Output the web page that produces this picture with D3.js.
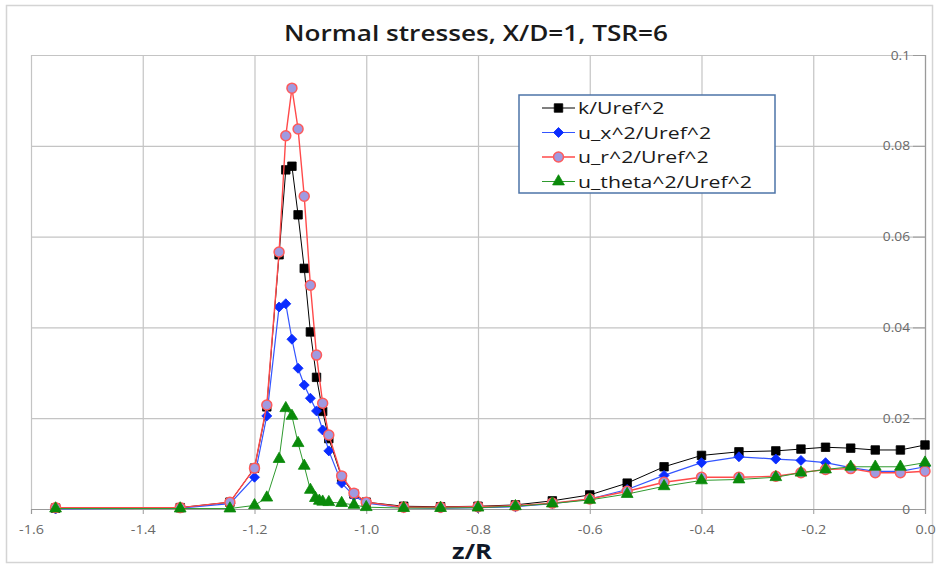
<!DOCTYPE html>
<html>
<head>
<meta charset="utf-8">
<script src="https://cdn.jsdelivr.net/npm/d3@7"></script>
<style>
  body { margin: 0; background: #fff; }
  svg { display: block; }
</style>
</head>
<body>
<div id="chart"></div>
<script>
// --- data ---
const zR = [-1.556, -1.333, -1.244, -1.2, -1.178, -1.156, -1.144, -1.133, -1.122, -1.111,
            -1.1, -1.089, -1.078, -1.067, -1.044, -1.022, -1.0, -0.933, -0.867, -0.8,
            -0.733, -0.667, -0.6, -0.533, -0.467, -0.4, -0.333, -0.267, -0.222, -0.178,
            -0.133, -0.089, -0.044, 0.0];
const kU = [0.0002, 0.0003, 0.0015, 0.009, 0.0225, 0.056, 0.0747, 0.0755, 0.0648, 0.053,
            0.039, 0.029, 0.0215, 0.0155, 0.007, 0.0033, 0.0015, 0.0006, 0.0005, 0.0006,
            0.0009, 0.0018, 0.0031, 0.0057, 0.0093, 0.0118, 0.0126, 0.0128, 0.0132, 0.0136,
            0.0134, 0.013, 0.013, 0.0141];
const uxU = [0.0, 0.0002, 0.0012, 0.007, 0.0205, 0.0445, 0.0452, 0.0374, 0.031, 0.0273,
             0.0244, 0.0216, 0.0174, 0.0128, 0.0057, 0.0029, 0.0013, 0.0003, 0.0002, 0.0003,
             0.0005, 0.0012, 0.0022, 0.0043, 0.0074, 0.0102, 0.0115, 0.011, 0.0107, 0.0102,
             0.0091, 0.0083, 0.0083, 0.0093];
const urU = [0.0003, 0.0003, 0.0015, 0.009, 0.0229, 0.0566, 0.0822, 0.0927, 0.0837, 0.0689,
             0.0493, 0.0339, 0.0233, 0.0163, 0.0073, 0.0035, 0.0015, 0.0004, 0.0004, 0.0005,
             0.0007, 0.0013, 0.0022, 0.0039, 0.0059, 0.007, 0.007, 0.0072, 0.008, 0.0087,
             0.0089, 0.008, 0.008, 0.0083];
const zRt = [-1.556, -1.333, -1.244, -1.2, -1.178, -1.156, -1.144, -1.133, -1.122, -1.111,
             -1.1, -1.091, -1.084, -1.078, -1.067, -1.044, -1.022, -1.0, -0.933, -0.867,
             -0.8, -0.733, -0.667, -0.6, -0.533, -0.467, -0.4, -0.333, -0.267, -0.222,
             -0.178, -0.133, -0.089, -0.044, 0.0];
const utU = [0.0001, 0.0001, 0.0001, 0.0008, 0.0025, 0.011, 0.0222, 0.0205, 0.0145, 0.0095,
             0.0042, 0.0024, 0.0018, 0.0016, 0.0015, 0.0013, 0.0009, 0.0004, 0.0002, 0.0002,
             0.0003, 0.0006, 0.0012, 0.002, 0.0033, 0.005, 0.0063, 0.0065, 0.007, 0.008,
             0.0087, 0.0093, 0.0093, 0.0093, 0.0102];

const seriesNames = ["k/Uref^2", "u_x^2/Uref^2", "u_r^2/Uref^2", "u_theta^2/Uref^2"];
const xTicks = [-1.6, -1.4, -1.2, -1.0, -0.8, -0.6, -0.4, -0.2, 0.0];
const yTicks = [0, 0.02, 0.04, 0.06, 0.08, 0.1];
const yTickLabels = ["0", "0.02", "0.04", "0.06", "0.08", "0.1"];

// --- layout ---
const W = 938, H = 565;
const plot = { left: 31, right: 925, top: 55, bottom: 509 };
const FONT = "'Open Sans', sans-serif";

// the reference text is rendered a bit wide, so glyphs get stretched horizontally
function stretch(sel, f) {
    sel.each(function () {
        const w = this.getComputedTextLength();
        d3.select(this).attr("textLength", w * f).attr("lengthAdjust", "spacingAndGlyphs");
    });
}

const svg = d3.select("#chart").append("svg")
    .attr("width", W)
    .attr("height", H);

// chart frame
svg.append("rect")
    .attr("x", 6.5).attr("y", 5.5)
    .attr("width", 926).attr("height", 557)
    .attr("fill", "#fff")
    .attr("stroke", "#d4d4d4")
    .attr("stroke-width", 1.5);

const x = d3.scaleLinear().domain([-1.6, 0]).range([plot.left, plot.right]);
const y = d3.scaleLinear().domain([0, 0.1]).range([plot.bottom, plot.top]);

// gridlines
svg.append("g")
    .attr("transform", `translate(0,${plot.bottom})`)
    .call(d3.axisBottom(x).tickValues(xTicks).tickSize(-(plot.bottom - plot.top)).tickFormat(""))
    .call(g => g.select(".domain").remove())
    .call(g => g.selectAll("line").attr("stroke", "#c4c4c4").attr("stroke-width", 1.2));

svg.append("g")
    .attr("transform", `translate(${plot.right},0)`)
    .call(d3.axisLeft(y).tickValues(yTicks).tickSize(plot.right - plot.left).tickFormat(""))
    .call(g => g.select(".domain").remove())
    .call(g => g.selectAll("line").attr("stroke", "#c4c4c4").attr("stroke-width", 1.2));

// x axis
svg.append("g")
    .attr("transform", `translate(0,${plot.bottom})`)
    .call(d3.axisBottom(x).tickValues(xTicks).tickSize(5).tickPadding(11)
        .tickFormat(d => d.toFixed(1)))
    .call(g => g.select(".domain").attr("stroke", "#9a9a9a").attr("stroke-width", 1.2))
    .call(g => g.selectAll("line").attr("stroke", "#9a9a9a"))
    .call(g => g.selectAll("text")
        .attr("fill", "#6a6a6a")
        .style("font-family", FONT)
        .style("font-size", "12.5px")
        .call(stretch, 1.15));

// y axis on the right (crosses at z/R = 0)
svg.append("g")
    .attr("transform", `translate(${plot.right},0)`)
    .call(d3.axisLeft(y).tickValues(yTicks).tickSize(12).tickPadding(3)
        .tickFormat((d, i) => yTickLabels[i]))
    .call(g => g.select(".domain").attr("stroke", "#9a9a9a").attr("stroke-width", 1.2))
    .call(g => g.selectAll("line").attr("stroke", "#9a9a9a"))
    .call(g => g.selectAll("text")
        .attr("fill", "#6a6a6a")
        .style("font-family", FONT)
        .style("font-size", "12.5px")
        .call(stretch, 1.1));

// title and axis title
svg.append("text")
    .attr("x", 476).attr("y", 41)
    .attr("text-anchor", "middle")
    .style("font-family", FONT)
    .style("font-size", "22px")
    .style("font-weight", 600)
    .attr("fill", "#1a1a1a")
    .attr("textLength", 384)
    .attr("lengthAdjust", "spacingAndGlyphs")
    .text("Normal stresses, X/D=1, TSR=6");

svg.append("text")
    .attr("x", 472).attr("y", 559)
    .attr("text-anchor", "middle")
    .style("font-family", FONT)
    .style("font-size", "21px")
    .style("font-weight", 700)
    .attr("fill", "#101828")
    .attr("textLength", 40)
    .attr("lengthAdjust", "spacingAndGlyphs")
    .text("z/R");

// --- series ---
const series = [
    { name: seriesNames[0], xs: zR, ys: kU, line: "#000000", width: 1, marker: "square", fill: "#000", stroke: "#000" },
    { name: seriesNames[1], xs: zR, ys: uxU, line: "#3355ff", width: 1.2, marker: "diamond", fill: "#0a2cff", stroke: "#0a2cff" },
    { name: seriesNames[2], xs: zR, ys: urU, line: "#ff4a4a", width: 1.4, marker: "circle", fill: "#a09ae0", stroke: "#ff5a5a" },
    { name: seriesNames[3], xs: zRt, ys: utU, line: "#2f9a2f", width: 1, marker: "triangle", fill: "#0a8a0a", stroke: "#0a8a0a" }
];

const symbolOf = {
    square: d3.symbol().type(d3.symbolSquare).size(72),
    diamond: d3.symbol().type(d3.symbolSquare).size(50),
    circle: d3.symbol().type(d3.symbolCircle).size(78),
    triangle: d3.symbol().type(d3.symbolTriangle).size(60)
};
const rot = s => s.marker === "diamond" ? " rotate(45)" : "";

const line = d3.line().x(d => x(d[0])).y(d => y(d[1]));

series.forEach(s => {
    const pts = s.xs.map((v, i) => [v, s.ys[i]]);
    const g = svg.append("g");
    g.append("path")
        .attr("d", line(pts))
        .attr("fill", "none")
        .attr("stroke", s.line)
        .attr("stroke-width", s.width);
    g.selectAll("path.mk")
        .data(pts)
        .enter()
        .append("path")
        .attr("class", "mk")
        .attr("transform", d => `translate(${x(d[0])},${y(d[1])})` + rot(s))
        .attr("d", symbolOf[s.marker]())
        .attr("fill", s.fill)
        .attr("stroke", s.stroke)
        .attr("stroke-width", s.marker === "circle" ? 1.5 : 0.8);
});

// --- legend ---
const legend = svg.append("g").attr("transform", "translate(519,95)");
legend.append("rect")
    .attr("width", 256).attr("height", 98)
    .attr("fill", "#fff")
    .attr("stroke", "#4d74a8")
    .attr("stroke-width", 1.5);

series.forEach((s, i) => {
    const row = legend.append("g").attr("transform", `translate(0,${13 + i * 24.5})`);
    row.append("line")
        .attr("x1", 23).attr("x2", 56)
        .attr("stroke", s.line).attr("stroke-width", s.width);
    row.append("path")
        .attr("transform", "translate(39.5,0)" + rot(s))
        .attr("d", symbolOf[s.marker]())
        .attr("fill", s.fill)
        .attr("stroke", s.stroke)
        .attr("stroke-width", s.marker === "circle" ? 1.5 : 0.8);
    row.append("text")
        .attr("x", 59).attr("y", 6)
        .style("font-family", FONT)
        .style("font-size", "17px")
        .attr("fill", "#1a1a1a")
        .text(s.name)
        .call(stretch, 1.25);
});
</script>
</body>
</html>
